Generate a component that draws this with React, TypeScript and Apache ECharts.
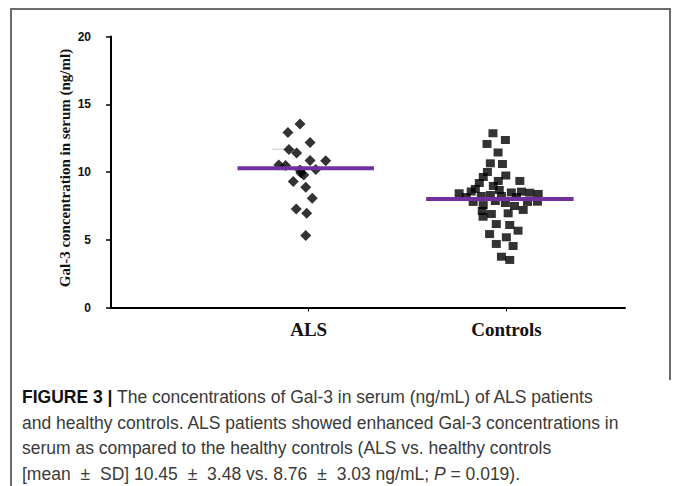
import React, { useEffect, useRef } from "react";
import * as echarts from "echarts";

// ---- data ----
const categories = ["ALS", "Controls"];
const yTickStep = 5;

const alsX = [0.956, 0.895, 1.007, 0.9, 0.939, 1.007, 1.086, 0.849, 0.883, 0.956, 1.036, 0.975, 0.96, 0.922, 0.985, 1.018, 0.937, 0.99, 0.985];
const alsY = [13.54, 12.92, 12.18, 11.66, 11.4, 10.85, 10.83, 10.52, 10.48, 10.15, 10.18, 9.78, 9.95, 9.3, 8.87, 8.06, 7.27, 6.95, 5.31];

const ctrlX = [1.932, 1.995, 1.902, 1.958, 1.919, 1.98, 1.904, 1.997, 1.883, 1.959, 1.863, 2.068, 1.934, 1.843, 1.822, 1.964, 2.025, 2.076, 2.118, 2.161, 1.761, 1.797, 1.873, 1.919, 1.975, 2.051, 1.832, 1.883, 1.944, 1.995, 2.041, 2.107, 2.157, 2.085, 1.878, 1.882, 1.924, 2.009, 1.949, 2.017, 2.059, 1.915, 2.0, 1.949, 2.034, 1.975, 2.017];
const ctrlY = [12.86, 12.36, 12.07, 11.44, 10.64, 10.59, 10.0, 9.74, 9.63, 9.34, 9.19, 9.34, 8.97, 8.75, 8.56, 8.67, 8.49, 8.55, 8.47, 8.38, 8.43, 8.15, 8.23, 8.3, 8.23, 8.15, 7.79, 7.56, 7.86, 7.71, 7.49, 7.79, 7.81, 7.2, 7.12, 6.7, 6.9, 6.95, 6.16, 6.09, 5.67, 5.42, 5.18, 4.69, 4.54, 3.75, 3.51];

const alsMeanX = [0.64, 1.33];
const alsMeanY = 10.27;
const ctrlMeanX = [1.594, 2.34];
const ctrlMeanY = 8.0;
const faintMarkX = [0.817, 0.944];
const faintMarkY = 11.68;

const yAxisTitle = "Gal-3 concentration in serum (ng/ml)";
const captionLines = [
  "{b|FIGURE 3 |} The concentrations of Gal-3 in serum (ng/mL) of ALS patients",
  "and healthy controls. ALS patients showed enhanced Gal-3 concentrations in",
  "serum as compared to the healthy controls (ALS vs. healthy controls",
  "[mean {pm|\u00b1} SD] 10.45 {pm|\u00b1} 3.48 vs. 8.76 {pm|\u00b1} 3.03 ng/mL; {i|P} = 0.019).",
];

export default function App() {
  const ref = useRef<HTMLDivElement>(null);
  useEffect(() => {
    if (!ref.current) return;
    const chart = echarts.init(ref.current, null, { renderer: "svg" });
    const alsData = alsX.map((x, i) => [x, alsY[i]]);
    const ctrlData = ctrlX.map((x, i) => [x, ctrlY[i]]);
    const fs = 17.5;
    const option: any = {
      animation: false,
      backgroundColor: "#fff",
      grid: { left: 111, right: 48, top: 36.5, bottom: 178.5 },
      xAxis: {
        type: "value",
        min: 0,
        max: 2.6,
        splitLine: { show: false },
        axisLine: { show: true, lineStyle: { color: "#000", width: 2 } },
        axisTick: { show: true, customValues: [1, 2], length: 4, lineStyle: { color: "#000", width: 1 } },
        axisLabel: {
          customValues: [1, 2],
          formatter: (v: number) => categories[Math.round(v) - 1] ?? "",
          fontFamily: "Liberation Serif",
          fontWeight: "bold",
          fontSize: 19,
          color: "#111",
          margin: 12,
        },
      },
      yAxis: {
        type: "value",
        min: 0,
        max: 20,
        interval: yTickStep,
        splitLine: { show: false },
        axisLine: { show: true, lineStyle: { color: "#000", width: 2 } },
        axisTick: { show: true, length: 5, lineStyle: { color: "#000", width: 1.5 } },
        axisLabel: {
          fontFamily: "Liberation Sans",
          fontWeight: "bold",
          fontSize: 12,
          color: "#111",
          margin: 20,
        },
      },
      series: [
        {
          type: "line",
          data: faintMarkX.map((x) => [x, faintMarkY]),
          symbol: "none",
          lineStyle: { color: "#c8c8c8", width: 1 },
          z: 1,
        },
        {
          type: "scatter",
          name: categories[0],
          data: alsData,
          symbol: "diamond",
          symbolSize: 11,
          itemStyle: { color: "#000" },
          z: 2,
        },
        {
          type: "scatter",
          name: categories[1],
          data: ctrlData,
          symbol: "rect",
          symbolSize: [9, 8],
          itemStyle: { color: "#000" },
          z: 2,
        },
        {
          type: "line",
          data: alsMeanX.map((x) => [x, alsMeanY]),
          symbol: "none",
          lineStyle: { color: "#7030A0", width: 4 },
          z: 5,
        },
        {
          type: "line",
          data: ctrlMeanX.map((x) => [x, ctrlMeanY]),
          symbol: "none",
          lineStyle: { color: "#7030A0", width: 4 },
          z: 5,
        },
      ],
      graphic: [
        {
          type: "polyline",
          shape: { points: [[11, 486], [11, 9], [670, 9], [670, 380]] },
          style: { stroke: "#6b6b6b", lineWidth: 2, fill: "none" },
          silent: true,
        },
        {
          type: "text",
          x: 65,
          y: 168,
          rotation: Math.PI / 2,
          style: {
            text: yAxisTitle,
            fontFamily: "Liberation Serif",
            fontWeight: "bold",
            fontSize: 15,
            fill: "#111",
            textAlign: "center",
            textVerticalAlign: "middle",
          },
        },
        ...captionLines.map((t, i) => ({
          type: "text",
          x: 22,
          y: 397 + i * 25.7,
          style: {
            text: t,
            fontFamily: "Liberation Sans",
            fontSize: fs,
            fill: "#3a3a3a",
            textAlign: "left",
            textVerticalAlign: "middle",
            rich: {
              b: { fontFamily: "Liberation Sans", fontWeight: "bold", fontSize: fs, fill: "#111" },
              i: { fontFamily: "Liberation Sans", fontStyle: "italic", fontSize: fs, fill: "#3a3a3a" },
              pm: { fontFamily: "Liberation Sans", fontSize: fs, fill: "#3a3a3a", padding: [0, 5, 0, 5] },
            },
          },
        })),
      ],
    };
    chart.setOption(option);
    return () => chart.dispose();
  }, []);
  return (
    <div
      ref={ref}
      style={{ position: "fixed", left: 0, top: 0, width: 673, height: 486, background: "#fff" }}
    />
  );
}
